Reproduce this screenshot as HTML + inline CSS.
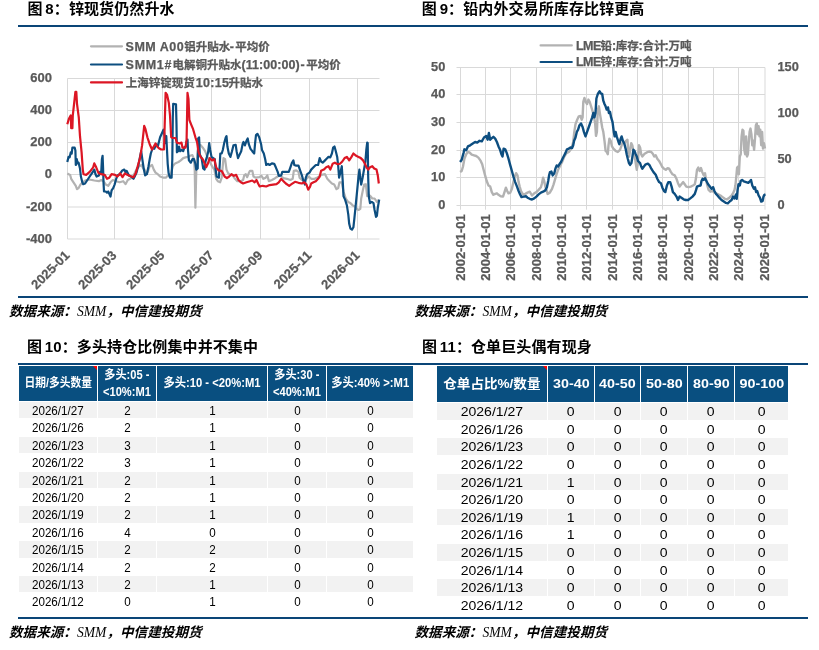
<!DOCTYPE html><html lang="zh"><head><meta charset="utf-8"><title>图表</title><style>
html,body{margin:0;padding:0;background:#fff;}
body{width:819px;height:650px;position:relative;overflow:hidden;font-family:"Liberation Sans","Noto Sans CJK SC",sans-serif;}
.h{position:absolute;font:bold 15px/20px "Liberation Sans","Noto Sans CJK SC",sans-serif;letter-spacing:0.1px;color:#000;white-space:nowrap;word-spacing:-1.5px;}
.rule{position:absolute;left:18px;width:790px;height:2px;background:#0a4577;}
.src{position:absolute;font:italic bold 13.6px/18px "Liberation Serif","Noto Sans CJK SC",sans-serif;color:#000;white-space:nowrap;}
.src span{font-weight:normal;}
svg{position:absolute;left:0;top:0;}
svg text{font-family:"Liberation Sans","Noto Sans CJK SC",sans-serif;font-weight:bold;fill:#595959;stroke:#595959;stroke-width:0.25px;}
.tbl{position:absolute;}
.row{position:absolute;left:0;right:0;}
.c{position:absolute;top:0;bottom:0;text-align:center;color:#000;white-space:nowrap;}
.g .c{background:linear-gradient(#fff 1px,#f2f2f2 1px);}
.hd .c{background:#094f80;color:#fff;font-weight:bold;}
.sx{display:inline-block;white-space:nowrap;}
.tri{position:absolute;width:0;height:0;border-top:4px solid #f00;border-left:4px solid transparent;}
</style></head><body>
<div class="h" style="left:27.5px;top:-1px">图 8：锌现货仍然升水</div>
<div class="h" style="left:421.8px;top:-1px">图 9：铅内外交易所库存比锌更高</div>
<div class="h" style="left:27px;top:337px">图 10：多头持仓比例集中并不集中</div>
<div class="h" style="left:422px;top:337px">图 11：仓单巨头偶有现身</div>
<div class="rule" style="top:25px"></div>
<div class="rule" style="top:296px"></div>
<div class="rule" style="top:363px"></div>
<div class="rule" style="top:617px"></div>
<div class="src" style="left:9px;top:303px">数据来源：<span>SMM</span>，中信建投期货</div>
<div class="src" style="left:414.5px;top:303px">数据来源：<span>SMM</span>，中信建投期货</div>
<div class="src" style="left:9px;top:624px">数据来源：<span>SMM</span>，中信建投期货</div>
<div class="src" style="left:414.5px;top:624px">数据来源：<span>SMM</span>，中信建投期货</div>
<svg width="819" height="330" viewBox="0 0 819 330"><path d="M67.5 78.5H379.5M67.5 110.5H379.5M67.5 142.5H379.5M67.5 174.5H379.5M67.5 207H379.5M67.5 239H379.5M67.5 78.5V239M114.5 78.5V239M162.5 78.5V239M211.5 78.5V239M260.5 78.5V239M309.5 78.5V239M357.5 78.5V239" stroke="#d9d9d9" stroke-width="1" fill="none"/><text x="52" y="82.3" text-anchor="end" font-size="13">600</text><text x="52" y="114.3" text-anchor="end" font-size="13">400</text><text x="52" y="146.3" text-anchor="end" font-size="13">200</text><text x="52" y="178.3" text-anchor="end" font-size="13">0</text><text x="52" y="210.8" text-anchor="end" font-size="13">-200</text><text x="52" y="242.8" text-anchor="end" font-size="13">-400</text><text transform="translate(70.3,256.2) rotate(-45)" text-anchor="end" font-size="13">2025-01</text><text transform="translate(117.3,256.2) rotate(-45)" text-anchor="end" font-size="13">2025-03</text><text transform="translate(165.3,256.2) rotate(-45)" text-anchor="end" font-size="13">2025-05</text><text transform="translate(214.3,256.2) rotate(-45)" text-anchor="end" font-size="13">2025-07</text><text transform="translate(263.3,256.2) rotate(-45)" text-anchor="end" font-size="13">2025-09</text><text transform="translate(312.3,256.2) rotate(-45)" text-anchor="end" font-size="13">2025-11</text><text transform="translate(360.3,256.2) rotate(-45)" text-anchor="end" font-size="13">2026-01</text><polyline points="67.3,173.5 70.1,174.9 71.2,178.8 73.5,182.3 75.8,185.8 77.0,189.2 78.6,188.1 80.5,184.6 82.8,182.3 85.1,180.5 88.5,179.5 92.0,180.0 94.3,180.5 98.9,181.2 101.2,180.0 103.5,181.2 105.8,184.6 108.2,185.8 110.5,182.3 112.8,180.0 116.2,181.2 119.7,182.3 123.2,181.2 125.5,184.2 127.8,180.0 130.1,178.8 132.4,177.2 134.7,173.1 137.0,168.5 139.3,166.2 141.6,165.0 143.2,168.5 144.6,169.6 146.2,173.1 147.8,171.9 149.7,166.2 152.0,165.0 153.8,169.6 155.5,172.6 157.8,174.2 160.1,176.5 163.5,177.7 165.8,177.7 167.7,175.8 170.5,175.4 172.8,166.2 175.1,163.4 178.5,162.0 180.8,160.4 183.2,158.1 185.5,157.4 187.8,156.9 190.1,155.8 192.4,155.1 194.0,159.2 194.7,169.6 195.4,207.7 196.3,170.8 197.0,159.2 197.7,151.2 198.6,145.4 200.5,144.9 202.8,147.7 205.1,151.2 207.4,156.9 209.7,161.5 212.0,166.2 214.3,169.6 216.2,178.8 217.8,181.2 220.1,182.3 221.7,177.7 223.5,158.1 225.1,159.2 226.5,169.6 228.1,173.1 230.4,174.9 232.7,175.4 235.0,178.8 237.3,181.2 240.8,181.2 243.1,180.0 244.2,175.4 245.8,174.2 247.2,177.2 248.8,173.1 250.0,170.8 252.3,170.8 253.5,176.5 255.8,177.7 259.2,177.2 261.5,175.8 263.4,178.8 265.7,177.7 267.3,175.4 268.9,181.2 271.9,180.0 274.2,178.8 276.5,177.2 278.8,175.8 281.2,176.5 283.5,178.2 286.9,178.8 290.4,180.0 292.7,178.8 293.8,170.8 296.2,170.3 298.5,171.9 299.6,177.7 301.9,180.0 304.2,180.5 306.5,178.8 308.8,176.5 311.2,178.8 314.6,178.8 316.9,177.7 319.2,176.5 321.5,174.9 325.0,174.2 327.3,178.8 329.6,181.2 331.9,183.5 334.2,184.6 336.5,189.2 338.2,188.1 339.5,182.3 341.8,182.3 343.5,191.5 345.8,198.5 348.1,201.9 350.4,203.1 352.7,205.4 355.0,206.5 356.6,208.8 358.5,210.0 360.3,208.8 361.2,198.5 362.6,191.5 364.2,184.6 365.8,184.2 367.2,196.2 368.8,195.0 370.5,196.2 372.3,198.5 374.6,198.5 376.9,201.9 378.8,199.6" fill="none" stroke="#b2b2b2" stroke-width="2.2" stroke-linejoin="round" stroke-linecap="butt"/><polyline points="67.3,162.0 68.5,156.9 69.6,157.4 70.8,152.3 71.7,153.5 72.4,147.7 74.7,147.7 75.4,150.5 75.8,165.0 76.8,159.2 77.7,163.4 78.6,162.7 80.0,168.5 80.9,176.5 82.3,182.3 83.2,184.2 85.1,183.5 87.4,180.0 89.7,176.5 92.0,173.1 94.3,169.6 95.5,174.2 96.6,176.5 98.9,175.4 100.1,171.9 101.2,173.1 101.9,159.2 102.6,155.8 103.1,168.5 103.5,182.3 104.0,191.5 105.8,191.5 107.0,192.7 108.2,191.5 109.3,193.8 110.5,196.6 111.6,190.4 113.2,188.1 114.6,184.6 116.2,178.8 117.4,175.4 119.7,174.2 122.0,170.8 124.3,169.6 125.5,171.9 126.6,170.8 128.9,175.4 131.2,176.5 133.5,178.8 134.7,176.5 136.3,173.1 138.2,166.2 140.0,156.9 141.2,151.2 142.3,159.2 143.9,169.6 145.1,175.4 146.9,174.2 148.5,166.2 149.7,159.2 150.8,153.5 152.0,150.0 153.2,147.7 154.3,148.8 156.2,144.2 157.8,146.5 158.9,141.9 160.1,137.3 161.7,133.8 163.5,129.7 164.7,136.2 165.4,143.1 166.3,136.2 167.0,150.0 167.7,163.8 168.6,173.1 170.0,177.7 171.6,177.7 172.3,159.2 172.8,117.7 173.2,103.8 176.0,104.3 176.5,124.6 176.9,152.3 178.1,151.2 179.0,146.5 180.2,151.2 181.5,150.0 183.2,151.2 184.3,147.7 185.7,146.5 186.6,141.9 187.5,139.6 188.0,150.0 188.9,160.4 190.8,162.7 192.4,159.2 194.0,159.2 195.4,163.8 196.3,169.6 197.7,168.5 198.2,138.5 199.1,137.3 199.8,154.6 201.6,158.1 203.2,168.5 204.6,169.6 205.5,161.5 206.9,156.9 208.1,152.3 209.2,143.1 210.2,150.0 211.5,156.9 213.2,158.1 214.8,159.2 215.5,168.5 216.6,176.5 218.9,177.7 219.8,163.8 220.3,153.5 221.7,153.5 222.8,150.0 224.2,143.1 225.8,137.3 226.5,136.2 227.4,146.5 228.8,153.5 230.4,156.9 232.0,151.2 233.4,145.4 235.7,144.9 236.6,151.2 238.0,158.1 239.6,154.6 241.2,151.2 242.6,144.2 243.5,141.9 244.9,145.4 246.5,140.8 247.7,138.5 248.8,144.2 250.5,148.8 252.3,151.2 254.2,153.5 255.1,143.1 256.0,135.0 257.4,133.8 259.2,137.3 261.1,144.2 262.0,150.0 263.8,153.5 265.2,159.2 266.2,165.0 268.0,163.8 269.6,165.0 271.9,163.4 274.2,163.8 275.8,167.3 277.7,171.9 278.8,175.8 281.2,175.4 282.3,171.9 285.8,171.9 288.8,171.9 290.4,167.3 292.0,162.7 293.4,160.4 294.3,165.0 296.2,165.7 298.5,165.7 300.3,170.8 301.9,175.4 303.5,181.2 304.9,184.6 305.8,177.7 307.2,174.2 309.5,172.6 311.2,169.6 313.5,167.3 315.8,165.0 318.1,165.0 319.7,158.1 321.1,161.5 322.7,162.7 325.0,160.4 326.6,158.8 328.5,156.9 330.3,157.4 331.9,153.5 333.1,147.7 334.5,146.5 335.8,151.2 337.2,156.9 338.2,166.2 339.1,177.7 340.5,171.9 341.8,166.2 342.8,182.3 343.5,196.2 345.1,199.6 346.9,205.4 348.3,214.6 349.2,223.8 350.4,228.5 352.0,229.6 353.4,227.3 354.3,219.2 355.7,205.4 357.3,189.2 358.5,176.5 359.4,169.6 360.3,177.7 361.2,184.6 362.6,177.7 364.2,168.5 365.4,161.5 366.3,150.0 367.2,142.6 367.7,143.1 368.2,177.7 368.8,196.2 370.0,203.1 371.8,201.9 373.5,203.1 374.6,210.0 376.0,216.9 376.9,215.8 377.8,207.7 379.2,199.6" fill="none" stroke="#0d4e80" stroke-width="2.2" stroke-linejoin="round" stroke-linecap="butt"/><polyline points="67.3,124.2 68.9,118.8 70.8,115.4 71.2,128.1 72.4,128.1 72.8,115.4 75.4,91.8 76.3,91.8 77.0,103.8 78.8,117.7 80.0,136.2 81.6,152.3 82.8,169.6 83.5,174.2 86.2,174.9 89.7,171.9 93.2,167.3 94.3,163.4 96.2,167.3 98.5,173.1 101.2,174.2 104.7,174.9 107.0,178.8 109.3,177.7 111.6,174.2 115.1,174.9 117.4,176.5 120.2,173.5 122.5,177.2 124.8,173.5 127.8,174.9 131.2,176.5 133.5,177.2 135.8,173.1 137.7,166.2 140.0,158.1 142.1,145.4 144.2,125.8 145.5,129.2 147.4,137.3 149.7,144.2 152.0,149.5 153.8,146.5 155.5,143.5 157.1,146.5 158.9,148.2 161.2,149.5 164.0,149.5 164.9,117.7 165.6,92.8 167.0,94.6 168.8,102.7 170.0,115.4 171.2,137.3 172.8,138.0 175.5,138.0 176.9,142.6 179.7,143.5 181.5,142.6 182.5,147.7 185.5,147.7 186.6,139.6 187.5,92.8 188.5,99.2 189.4,120.0 191.2,124.6 193.1,129.2 195.4,137.3 197.0,141.9 198.6,152.3 200.5,156.9 202.8,159.2 204.6,163.4 206.2,167.3 207.8,163.8 209.7,158.1 212.0,160.4 214.3,159.2 216.2,167.3 218.5,170.3 221.2,170.8 222.3,171.9 224.6,176.5 226.9,178.2 229.2,176.5 231.5,174.2 233.8,175.8 236.2,174.9 238.5,180.0 240.8,182.3 243.1,183.5 246.5,182.3 250.0,181.2 252.3,180.5 254.6,182.3 256.5,180.0 258.1,183.5 259.7,186.5 262.7,185.8 266.2,186.5 269.6,185.1 273.1,184.6 276.5,184.2 278.8,182.3 281.2,178.8 283.5,181.2 285.8,183.5 289.2,185.8 291.5,184.2 295.0,181.8 298.5,182.8 301.9,183.5 304.2,182.3 306.5,184.6 308.2,189.7 310.0,186.9 311.2,183.5 313.5,182.3 315.8,181.2 318.1,178.8 319.7,176.5 321.1,170.8 323.8,169.6 326.2,167.3 328.5,166.2 330.3,169.6 332.6,163.8 334.9,162.7 337.7,164.3 340.0,163.8 342.3,161.5 344.6,158.1 346.9,156.9 349.2,160.4 351.5,156.9 353.4,153.5 356.2,155.8 358.5,156.9 360.8,158.1 363.1,160.4 364.9,163.8 366.5,167.3 368.2,169.6 370.0,167.3 372.3,166.2 374.2,168.5 376.5,169.6 377.8,175.4 378.8,183.5" fill="none" stroke="#dc1624" stroke-width="2.2" stroke-linejoin="round" stroke-linecap="butt"/><path d="M91 46.3H122" stroke="#b2b2b2" stroke-width="2.2" stroke-linecap="round"/><text y="50.6"><tspan x="125.6" font-size="12.5" letter-spacing="0.5">SMM A00</tspan><tspan x="184.2" font-size="11.5">铝升贴水</tspan><tspan x="229.7" font-size="12.5" letter-spacing="0.3">-</tspan><tspan x="235.3" font-size="11.5">平均价</tspan></text><path d="M91 64.5H122" stroke="#0d4e80" stroke-width="2.2" stroke-linecap="round"/><text y="68.8"><tspan x="125.6" font-size="12.5" letter-spacing="0.7">SMM1#</tspan><tspan x="172.4" font-size="11.5">电解铜升贴水</tspan><tspan x="241.6" font-size="12.5" letter-spacing="0.05">(11:00:00)</tspan><tspan x="300.5" font-size="12.5" letter-spacing="0.3">-</tspan><tspan x="306.3" font-size="11.5">平均价</tspan></text><path d="M91 82.4H122" stroke="#dc1624" stroke-width="2.2" stroke-linecap="round"/><text y="86.7"><tspan x="125.8" font-size="11.5">上海锌锭现货</tspan><tspan x="195.8" font-size="12.5" letter-spacing="0.3">10:15</tspan><tspan x="228.6" font-size="11.5">升贴水</tspan></text><path d="M456.5 67.5H765M456.5 94.5H765M456.5 122.5H765M456.5 150.5H765M456.5 177.5H765M456.5 205.5H765M460.5 67.5V209.7M485.5 67.5V209.7M510.5 67.5V209.7M536.5 67.5V209.7M561.5 67.5V209.7M586.5 67.5V209.7M612.5 67.5V209.7M637.5 67.5V209.7M662.5 67.5V209.7M688.5 67.5V209.7M713.5 67.5V209.7M738.5 67.5V209.7M765 67.5V209.7" stroke="#d9d9d9" stroke-width="1" fill="none"/><text x="445.3" y="70.9" text-anchor="end" font-size="12.8">50</text><text x="445.3" y="97.9" text-anchor="end" font-size="12.8">40</text><text x="445.3" y="125.9" text-anchor="end" font-size="12.8">30</text><text x="445.3" y="153.9" text-anchor="end" font-size="12.8">20</text><text x="445.3" y="180.9" text-anchor="end" font-size="12.8">10</text><text x="445.3" y="208.9" text-anchor="end" font-size="12.8">0</text><text x="777.5" y="70.9" font-size="12.8">150</text><text x="777.5" y="116.9" font-size="12.8">100</text><text x="777.5" y="162.9" font-size="12.8">50</text><text x="777.5" y="208.9" font-size="12.8">0</text><text transform="translate(464.8,214.3) rotate(-90)" text-anchor="end" font-size="13">2002-01-01</text><text transform="translate(489.8,214.3) rotate(-90)" text-anchor="end" font-size="13">2004-01-01</text><text transform="translate(514.8,214.3) rotate(-90)" text-anchor="end" font-size="13">2006-01-01</text><text transform="translate(540.8,214.3) rotate(-90)" text-anchor="end" font-size="13">2008-01-01</text><text transform="translate(565.8,214.3) rotate(-90)" text-anchor="end" font-size="13">2010-01-01</text><text transform="translate(590.8,214.3) rotate(-90)" text-anchor="end" font-size="13">2012-01-01</text><text transform="translate(616.8,214.3) rotate(-90)" text-anchor="end" font-size="13">2014-01-01</text><text transform="translate(641.8,214.3) rotate(-90)" text-anchor="end" font-size="13">2016-01-01</text><text transform="translate(666.8,214.3) rotate(-90)" text-anchor="end" font-size="13">2018-01-01</text><text transform="translate(692.8,214.3) rotate(-90)" text-anchor="end" font-size="13">2020-01-01</text><text transform="translate(717.8,214.3) rotate(-90)" text-anchor="end" font-size="13">2022-01-01</text><text transform="translate(742.8,214.3) rotate(-90)" text-anchor="end" font-size="13">2024-01-01</text><text transform="translate(769.3,214.3) rotate(-90)" text-anchor="end" font-size="13">2026-01-01</text><polyline points="460.1,172.1 461.7,171.0 463.0,166.5 464.4,158.7 466.2,154.2 467.9,152.0 469.5,152.4 471.7,154.7 474.0,155.3 476.2,156.0 478.4,157.6 480.7,160.9 482.2,164.3 483.6,169.8 485.1,175.4 486.7,181.0 488.5,185.5 490.2,186.6 491.8,192.1 493.4,194.8 495.2,193.9 496.9,193.3 498.5,194.8 500.7,196.2 503.0,196.6 504.5,192.1 505.9,187.7 507.2,191.0 508.5,193.3 510.3,192.6 511.9,188.8 513.4,182.1 514.8,176.5 516.1,173.2 517.5,175.4 518.6,182.1 519.7,186.6 521.0,191.0 523.0,194.4 525.3,193.9 527.5,192.6 529.7,191.7 532.0,195.5 534.2,193.3 536.4,192.1 538.6,189.9 540.9,187.2 542.0,183.2 543.1,177.6 544.2,181.0 545.3,186.6 546.5,189.9 547.6,193.9 549.8,192.6 552.0,188.8 553.6,184.3 554.9,179.9 556.5,174.3 558.1,169.8 559.8,166.5 562.1,162.0 564.3,156.5 566.5,153.1 568.8,152.0 570.5,149.8 572.1,146.4 573.2,142.0 574.3,131.9 575.5,124.1 577.2,119.7 578.8,116.3 580.4,115.9 581.7,119.7 582.6,117.4 583.3,101.8 584.4,98.0 585.7,101.8 587.1,104.0 588.4,99.6 589.7,101.8 591.1,106.3 592.4,110.7 593.7,115.2 595.1,123.0 596.0,135.9 596.9,131.9 597.8,109.6 598.9,106.3 600.0,114.1 601.1,120.8 602.2,127.5 603.3,131.9 604.5,140.8 605.6,150.9 606.7,152.0 607.8,154.2 608.5,145.3 609.4,138.6 610.7,140.8 612.0,146.4 613.4,148.6 614.7,149.8 615.6,150.9 617.8,152.0 620.0,149.8 621.6,145.3 622.9,142.0 624.5,143.1 626.1,140.8 627.4,139.7 628.3,152.0 629.2,156.5 630.1,149.8 631.2,143.1 632.3,145.3 633.4,150.9 634.5,154.2 635.7,163.1 636.8,169.8 637.9,163.1 639.0,145.3 640.1,147.5 641.2,154.2 642.3,156.5 644.6,153.8 646.8,152.4 649.0,151.5 651.3,152.0 652.8,153.8 654.2,156.5 655.7,155.3 657.3,158.7 659.1,160.9 660.9,164.3 662.4,167.2 664.0,168.7 665.8,169.8 667.6,168.1 669.1,168.7 670.7,171.6 672.5,174.3 674.7,175.4 676.5,178.8 678.0,183.2 679.6,186.6 681.4,184.3 683.2,182.1 684.7,184.3 686.3,186.6 688.5,187.2 690.7,186.6 693.0,185.5 694.8,184.3 695.9,178.8 697.0,169.8 698.3,167.6 699.7,171.0 701.0,168.1 702.3,172.1 703.7,175.4 705.0,173.2 705.9,178.8 707.3,185.5 708.6,189.9 710.4,191.7 712.2,191.0 713.9,192.1 716.0,193.3 718.2,194.4 720.4,195.5 722.6,197.1 724.9,198.8 727.1,199.3 729.3,197.7 731.6,195.5 733.1,193.3 734.5,189.9 735.4,185.5 736.3,176.5 737.1,167.6 738.3,166.5 738.9,174.3 739.8,156.5 740.7,154.2 741.6,136.4 742.5,129.7 743.4,130.8 744.3,149.8 745.2,154.2 746.1,136.4 747.0,156.5 747.9,154.2 748.7,143.1 749.6,131.9 750.5,128.6 751.4,134.2 752.3,145.3 753.2,140.8 754.1,149.8 755.0,138.6 755.9,125.2 756.8,123.4 757.7,134.2 758.6,126.3 759.5,136.4 760.3,129.7 761.2,145.3 762.1,131.9 763.0,148.6 763.9,143.1 765.0,148.6" fill="none" stroke="#b2b2b2" stroke-width="2.4" stroke-linejoin="round" stroke-linecap="butt"/><polyline points="460.1,162.0 461.7,159.8 463.5,153.1 464.4,149.3 466.2,150.2 467.9,146.4 470.2,145.3 472.8,143.5 475.1,142.0 477.3,142.6 479.5,140.8 481.8,141.3 484.0,137.5 486.2,135.9 487.6,139.7 488.9,133.0 490.2,139.7 491.8,138.2 493.4,136.8 495.2,138.6 496.9,142.0 498.5,146.4 500.1,149.8 501.4,154.2 502.5,156.5 503.6,148.6 505.2,149.3 506.8,153.1 508.5,158.7 510.3,165.4 511.9,171.0 513.4,176.5 515.2,182.1 517.0,186.6 518.6,191.0 520.1,194.4 521.5,197.1 523.7,196.6 525.9,196.2 527.5,197.7 529.7,198.8 532.0,199.5 534.2,198.4 536.4,196.6 538.6,194.4 540.9,192.6 543.1,191.7 545.3,190.4 546.9,187.2 548.2,181.0 549.1,175.4 550.0,172.1 551.4,171.6 552.7,175.4 554.3,173.2 555.4,168.7 556.7,165.4 558.1,166.5 559.4,164.3 561.0,162.0 562.5,158.7 563.9,156.0 565.4,153.1 567.0,149.3 568.8,148.6 570.5,147.5 572.1,148.0 573.2,145.3 574.1,140.8 575.5,137.5 576.8,131.9 578.1,129.7 579.5,125.2 581.0,123.4 582.6,127.0 583.9,131.9 585.5,136.4 587.1,131.9 588.8,127.0 590.6,121.9 592.2,117.4 593.3,113.0 594.4,117.4 595.5,113.0 596.4,98.5 597.8,94.0 599.5,91.3 601.1,93.6 602.2,94.0 603.3,100.7 604.5,104.0 605.6,106.3 606.7,109.6 608.0,107.4 608.9,113.0 610.0,111.8 611.1,117.4 612.5,121.9 613.8,131.9 614.7,136.4 615.6,131.9 616.7,136.4 618.5,142.0 619.4,144.2 620.7,138.6 621.6,136.4 622.9,140.8 624.5,144.2 625.6,148.6 626.7,154.2 627.8,158.7 629.0,163.1 630.1,164.9 631.4,163.1 632.3,157.6 633.4,149.8 634.5,150.9 635.7,154.2 636.8,156.5 637.9,160.9 639.0,162.0 640.1,163.1 641.2,166.5 642.3,168.7 643.9,166.5 645.7,164.3 647.9,163.6 649.7,165.4 651.3,168.7 653.5,172.1 655.7,174.7 657.3,178.8 659.1,182.1 660.9,183.2 662.4,187.7 664.0,191.0 665.3,192.1 666.9,185.5 668.4,182.1 670.2,182.1 671.6,186.6 672.9,192.1 674.7,193.9 676.5,196.6 678.0,200.0 679.6,196.6 681.4,197.7 683.6,199.3 685.8,200.0 688.1,200.0 690.3,198.4 692.5,196.6 694.8,193.9 696.1,189.9 697.0,186.6 698.8,185.9 700.6,185.5 701.5,181.0 702.6,178.8 703.7,179.9 705.0,178.3 706.4,181.0 708.1,184.3 709.9,186.6 711.5,188.8 713.1,187.2 714.4,191.0 716.0,193.9 717.5,195.5 719.3,197.7 721.5,200.0 723.8,201.5 726.0,202.9 727.8,203.3 729.6,201.5 731.6,200.0 733.1,196.6 734.5,198.4 736.0,194.4 736.7,198.8 737.6,189.9 738.5,184.3 739.8,185.5 740.7,181.0 742.1,179.9 743.8,181.4 746.1,182.1 748.3,182.8 750.1,181.0 751.0,179.9 752.3,185.5 753.9,188.8 755.0,187.2 756.1,192.1 757.2,191.0 758.6,195.5 759.9,197.7 761.2,201.5 762.6,201.1 763.5,196.6 764.4,194.8 765.5,194.4" fill="none" stroke="#0d4e80" stroke-width="2.4" stroke-linejoin="round" stroke-linecap="butt"/><path d="M540.6 45.4H571.8" stroke="#b2b2b2" stroke-width="2.2" stroke-linecap="round"/><text y="49.7"><tspan x="575.9" font-size="12.5" letter-spacing="-0.5">LME</tspan><tspan x="600.6" font-size="11.5">铅</tspan><tspan x="612.1" font-size="12.5" letter-spacing="0.3">:</tspan><tspan x="615.8" font-size="11.5">库存</tspan><tspan x="638.6" font-size="12.5" letter-spacing="0.3">:</tspan><tspan x="642.6" font-size="11.5">合计</tspan><tspan x="664.6" font-size="12.5" letter-spacing="0.3">:</tspan><tspan x="668.6" font-size="11.5">万吨</tspan></text><path d="M540.6 62H571.8" stroke="#0d4e80" stroke-width="2.2" stroke-linecap="round"/><text y="66.3"><tspan x="575.9" font-size="12.5" letter-spacing="-0.5">LME</tspan><tspan x="600.6" font-size="11.5">锌</tspan><tspan x="612.1" font-size="12.5" letter-spacing="0.3">:</tspan><tspan x="615.8" font-size="11.5">库存</tspan><tspan x="638.6" font-size="12.5" letter-spacing="0.3">:</tspan><tspan x="642.6" font-size="11.5">合计</tspan><tspan x="664.6" font-size="12.5" letter-spacing="0.3">:</tspan><tspan x="668.6" font-size="11.5">万吨</tspan></text></svg>
<div class="tbl" style="left:19px;top:366px;width:394px;height:243.8px"><div class="row hd" style="top:0;height:35px"><div class="c" style="left:0px;width:78px;font-size:12.5px;line-height:35px;padding-top:0px"><span class="sx" style="transform:scaleX(0.86)">日期/多头数量</span></div><div class="c" style="left:79px;width:58px;font-size:12.5px;line-height:17px;padding-top:0.5px"><span class="sx" style="transform:scaleX(0.89)">多头:05 -<br>&lt;10%:M1</span></div><div class="c" style="left:138px;width:110px;font-size:12.5px;line-height:35px;padding-top:0px"><span class="sx" style="transform:scaleX(0.9)">多头:10 - &lt;20%:M1</span></div><div class="c" style="left:249px;width:58px;font-size:12.5px;line-height:17px;padding-top:0.5px"><span class="sx" style="transform:scaleX(0.89)">多头:30 -<br>&lt;40%:M1</span></div><div class="c" style="left:308px;width:86px;font-size:12.5px;line-height:35px;padding-top:0px"><span class="sx" style="transform:scaleX(0.9)">多头:40% &gt;:M1</span></div><div class="tri" style="left:74px;top:0"></div></div><div class="row g" style="top:35.00px;height:17.4px"><div class="c" style="left:0px;width:78px;font-size:12.5px;line-height:20.799999999999997px"><span class="sx" style="transform:scaleX(0.93)">2026/1/27</span></div><div class="c" style="left:79px;width:58px;font-size:12.5px;line-height:20.799999999999997px"><span class="sx" style="transform:scaleX(0.93)">2</span></div><div class="c" style="left:138px;width:110px;font-size:12.5px;line-height:20.799999999999997px"><span class="sx" style="transform:scaleX(0.93)">1</span></div><div class="c" style="left:249px;width:58px;font-size:12.5px;line-height:20.799999999999997px"><span class="sx" style="transform:scaleX(0.93)">0</span></div><div class="c" style="left:308px;width:86px;font-size:12.5px;line-height:20.799999999999997px"><span class="sx" style="transform:scaleX(0.93)">0</span></div></div><div class="row" style="top:52.40px;height:17.4px"><div class="c" style="left:0px;width:78px;font-size:12.5px;line-height:20.799999999999997px"><span class="sx" style="transform:scaleX(0.93)">2026/1/26</span></div><div class="c" style="left:79px;width:58px;font-size:12.5px;line-height:20.799999999999997px"><span class="sx" style="transform:scaleX(0.93)">2</span></div><div class="c" style="left:138px;width:110px;font-size:12.5px;line-height:20.799999999999997px"><span class="sx" style="transform:scaleX(0.93)">1</span></div><div class="c" style="left:249px;width:58px;font-size:12.5px;line-height:20.799999999999997px"><span class="sx" style="transform:scaleX(0.93)">0</span></div><div class="c" style="left:308px;width:86px;font-size:12.5px;line-height:20.799999999999997px"><span class="sx" style="transform:scaleX(0.93)">0</span></div></div><div class="row g" style="top:69.80px;height:17.4px"><div class="c" style="left:0px;width:78px;font-size:12.5px;line-height:20.799999999999997px"><span class="sx" style="transform:scaleX(0.93)">2026/1/23</span></div><div class="c" style="left:79px;width:58px;font-size:12.5px;line-height:20.799999999999997px"><span class="sx" style="transform:scaleX(0.93)">3</span></div><div class="c" style="left:138px;width:110px;font-size:12.5px;line-height:20.799999999999997px"><span class="sx" style="transform:scaleX(0.93)">1</span></div><div class="c" style="left:249px;width:58px;font-size:12.5px;line-height:20.799999999999997px"><span class="sx" style="transform:scaleX(0.93)">0</span></div><div class="c" style="left:308px;width:86px;font-size:12.5px;line-height:20.799999999999997px"><span class="sx" style="transform:scaleX(0.93)">0</span></div></div><div class="row" style="top:87.20px;height:17.4px"><div class="c" style="left:0px;width:78px;font-size:12.5px;line-height:20.799999999999997px"><span class="sx" style="transform:scaleX(0.93)">2026/1/22</span></div><div class="c" style="left:79px;width:58px;font-size:12.5px;line-height:20.799999999999997px"><span class="sx" style="transform:scaleX(0.93)">3</span></div><div class="c" style="left:138px;width:110px;font-size:12.5px;line-height:20.799999999999997px"><span class="sx" style="transform:scaleX(0.93)">1</span></div><div class="c" style="left:249px;width:58px;font-size:12.5px;line-height:20.799999999999997px"><span class="sx" style="transform:scaleX(0.93)">0</span></div><div class="c" style="left:308px;width:86px;font-size:12.5px;line-height:20.799999999999997px"><span class="sx" style="transform:scaleX(0.93)">0</span></div></div><div class="row g" style="top:104.60px;height:17.4px"><div class="c" style="left:0px;width:78px;font-size:12.5px;line-height:20.799999999999997px"><span class="sx" style="transform:scaleX(0.93)">2026/1/21</span></div><div class="c" style="left:79px;width:58px;font-size:12.5px;line-height:20.799999999999997px"><span class="sx" style="transform:scaleX(0.93)">2</span></div><div class="c" style="left:138px;width:110px;font-size:12.5px;line-height:20.799999999999997px"><span class="sx" style="transform:scaleX(0.93)">1</span></div><div class="c" style="left:249px;width:58px;font-size:12.5px;line-height:20.799999999999997px"><span class="sx" style="transform:scaleX(0.93)">0</span></div><div class="c" style="left:308px;width:86px;font-size:12.5px;line-height:20.799999999999997px"><span class="sx" style="transform:scaleX(0.93)">0</span></div></div><div class="row" style="top:122.00px;height:17.4px"><div class="c" style="left:0px;width:78px;font-size:12.5px;line-height:20.799999999999997px"><span class="sx" style="transform:scaleX(0.93)">2026/1/20</span></div><div class="c" style="left:79px;width:58px;font-size:12.5px;line-height:20.799999999999997px"><span class="sx" style="transform:scaleX(0.93)">2</span></div><div class="c" style="left:138px;width:110px;font-size:12.5px;line-height:20.799999999999997px"><span class="sx" style="transform:scaleX(0.93)">1</span></div><div class="c" style="left:249px;width:58px;font-size:12.5px;line-height:20.799999999999997px"><span class="sx" style="transform:scaleX(0.93)">0</span></div><div class="c" style="left:308px;width:86px;font-size:12.5px;line-height:20.799999999999997px"><span class="sx" style="transform:scaleX(0.93)">0</span></div></div><div class="row g" style="top:139.40px;height:17.4px"><div class="c" style="left:0px;width:78px;font-size:12.5px;line-height:20.799999999999997px"><span class="sx" style="transform:scaleX(0.93)">2026/1/19</span></div><div class="c" style="left:79px;width:58px;font-size:12.5px;line-height:20.799999999999997px"><span class="sx" style="transform:scaleX(0.93)">2</span></div><div class="c" style="left:138px;width:110px;font-size:12.5px;line-height:20.799999999999997px"><span class="sx" style="transform:scaleX(0.93)">1</span></div><div class="c" style="left:249px;width:58px;font-size:12.5px;line-height:20.799999999999997px"><span class="sx" style="transform:scaleX(0.93)">0</span></div><div class="c" style="left:308px;width:86px;font-size:12.5px;line-height:20.799999999999997px"><span class="sx" style="transform:scaleX(0.93)">0</span></div></div><div class="row" style="top:156.80px;height:17.4px"><div class="c" style="left:0px;width:78px;font-size:12.5px;line-height:20.799999999999997px"><span class="sx" style="transform:scaleX(0.93)">2026/1/16</span></div><div class="c" style="left:79px;width:58px;font-size:12.5px;line-height:20.799999999999997px"><span class="sx" style="transform:scaleX(0.93)">4</span></div><div class="c" style="left:138px;width:110px;font-size:12.5px;line-height:20.799999999999997px"><span class="sx" style="transform:scaleX(0.93)">0</span></div><div class="c" style="left:249px;width:58px;font-size:12.5px;line-height:20.799999999999997px"><span class="sx" style="transform:scaleX(0.93)">0</span></div><div class="c" style="left:308px;width:86px;font-size:12.5px;line-height:20.799999999999997px"><span class="sx" style="transform:scaleX(0.93)">0</span></div></div><div class="row g" style="top:174.20px;height:17.4px"><div class="c" style="left:0px;width:78px;font-size:12.5px;line-height:20.799999999999997px"><span class="sx" style="transform:scaleX(0.93)">2026/1/15</span></div><div class="c" style="left:79px;width:58px;font-size:12.5px;line-height:20.799999999999997px"><span class="sx" style="transform:scaleX(0.93)">2</span></div><div class="c" style="left:138px;width:110px;font-size:12.5px;line-height:20.799999999999997px"><span class="sx" style="transform:scaleX(0.93)">2</span></div><div class="c" style="left:249px;width:58px;font-size:12.5px;line-height:20.799999999999997px"><span class="sx" style="transform:scaleX(0.93)">0</span></div><div class="c" style="left:308px;width:86px;font-size:12.5px;line-height:20.799999999999997px"><span class="sx" style="transform:scaleX(0.93)">0</span></div></div><div class="row" style="top:191.60px;height:17.4px"><div class="c" style="left:0px;width:78px;font-size:12.5px;line-height:20.799999999999997px"><span class="sx" style="transform:scaleX(0.93)">2026/1/14</span></div><div class="c" style="left:79px;width:58px;font-size:12.5px;line-height:20.799999999999997px"><span class="sx" style="transform:scaleX(0.93)">2</span></div><div class="c" style="left:138px;width:110px;font-size:12.5px;line-height:20.799999999999997px"><span class="sx" style="transform:scaleX(0.93)">2</span></div><div class="c" style="left:249px;width:58px;font-size:12.5px;line-height:20.799999999999997px"><span class="sx" style="transform:scaleX(0.93)">0</span></div><div class="c" style="left:308px;width:86px;font-size:12.5px;line-height:20.799999999999997px"><span class="sx" style="transform:scaleX(0.93)">0</span></div></div><div class="row g" style="top:209.00px;height:17.4px"><div class="c" style="left:0px;width:78px;font-size:12.5px;line-height:20.799999999999997px"><span class="sx" style="transform:scaleX(0.93)">2026/1/13</span></div><div class="c" style="left:79px;width:58px;font-size:12.5px;line-height:20.799999999999997px"><span class="sx" style="transform:scaleX(0.93)">2</span></div><div class="c" style="left:138px;width:110px;font-size:12.5px;line-height:20.799999999999997px"><span class="sx" style="transform:scaleX(0.93)">1</span></div><div class="c" style="left:249px;width:58px;font-size:12.5px;line-height:20.799999999999997px"><span class="sx" style="transform:scaleX(0.93)">0</span></div><div class="c" style="left:308px;width:86px;font-size:12.5px;line-height:20.799999999999997px"><span class="sx" style="transform:scaleX(0.93)">0</span></div></div><div class="row" style="top:226.40px;height:17.4px"><div class="c" style="left:0px;width:78px;font-size:12.5px;line-height:20.799999999999997px"><span class="sx" style="transform:scaleX(0.93)">2026/1/12</span></div><div class="c" style="left:79px;width:58px;font-size:12.5px;line-height:20.799999999999997px"><span class="sx" style="transform:scaleX(0.93)">0</span></div><div class="c" style="left:138px;width:110px;font-size:12.5px;line-height:20.799999999999997px"><span class="sx" style="transform:scaleX(0.93)">1</span></div><div class="c" style="left:249px;width:58px;font-size:12.5px;line-height:20.799999999999997px"><span class="sx" style="transform:scaleX(0.93)">0</span></div><div class="c" style="left:308px;width:86px;font-size:12.5px;line-height:20.799999999999997px"><span class="sx" style="transform:scaleX(0.93)">0</span></div></div></div>
<div class="tbl" style="left:437px;top:366px;width:351px;height:247.6px"><div class="row hd" style="top:0;height:36px"><div class="c" style="left:0px;width:110px;font-size:12.8px;line-height:36px;padding-top:0px"><span class="sx" style="transform:scaleX(1.06)">仓单占比%/数量</span></div><div class="c" style="left:111px;width:46px;font-size:12.8px;line-height:36px;padding-top:0px"><span class="sx" style="transform:scaleX(1.12)">30-40</span></div><div class="c" style="left:158px;width:45px;font-size:12.8px;line-height:36px;padding-top:0px"><span class="sx" style="transform:scaleX(1.12)">40-50</span></div><div class="c" style="left:204px;width:46px;font-size:12.8px;line-height:36px;padding-top:0px"><span class="sx" style="transform:scaleX(1.12)">50-80</span></div><div class="c" style="left:251px;width:46px;font-size:12.8px;line-height:36px;padding-top:0px"><span class="sx" style="transform:scaleX(1.12)">80-90</span></div><div class="c" style="left:298px;width:53px;font-size:12.8px;line-height:36px;padding-top:0px"><span class="sx" style="transform:scaleX(1.12)">90-100</span></div><div class="tri" style="left:106px;top:0"></div></div><div class="row g" style="top:36.00px;height:17.63px"><div class="c" style="left:0px;width:110px;font-size:13px;line-height:20.13px"><span class="sx" style="transform:scaleX(1.08)">2026/1/27</span></div><div class="c" style="left:111px;width:46px;font-size:13px;line-height:20.13px"><span class="sx" style="transform:scaleX(1.08)">0</span></div><div class="c" style="left:158px;width:45px;font-size:13px;line-height:20.13px"><span class="sx" style="transform:scaleX(1.08)">0</span></div><div class="c" style="left:204px;width:46px;font-size:13px;line-height:20.13px"><span class="sx" style="transform:scaleX(1.08)">0</span></div><div class="c" style="left:251px;width:46px;font-size:13px;line-height:20.13px"><span class="sx" style="transform:scaleX(1.08)">0</span></div><div class="c" style="left:298px;width:53px;font-size:13px;line-height:20.13px"><span class="sx" style="transform:scaleX(1.08)">0</span></div></div><div class="row" style="top:53.63px;height:17.63px"><div class="c" style="left:0px;width:110px;font-size:13px;line-height:20.13px"><span class="sx" style="transform:scaleX(1.08)">2026/1/26</span></div><div class="c" style="left:111px;width:46px;font-size:13px;line-height:20.13px"><span class="sx" style="transform:scaleX(1.08)">0</span></div><div class="c" style="left:158px;width:45px;font-size:13px;line-height:20.13px"><span class="sx" style="transform:scaleX(1.08)">0</span></div><div class="c" style="left:204px;width:46px;font-size:13px;line-height:20.13px"><span class="sx" style="transform:scaleX(1.08)">0</span></div><div class="c" style="left:251px;width:46px;font-size:13px;line-height:20.13px"><span class="sx" style="transform:scaleX(1.08)">0</span></div><div class="c" style="left:298px;width:53px;font-size:13px;line-height:20.13px"><span class="sx" style="transform:scaleX(1.08)">0</span></div></div><div class="row g" style="top:71.26px;height:17.63px"><div class="c" style="left:0px;width:110px;font-size:13px;line-height:20.13px"><span class="sx" style="transform:scaleX(1.08)">2026/1/23</span></div><div class="c" style="left:111px;width:46px;font-size:13px;line-height:20.13px"><span class="sx" style="transform:scaleX(1.08)">0</span></div><div class="c" style="left:158px;width:45px;font-size:13px;line-height:20.13px"><span class="sx" style="transform:scaleX(1.08)">0</span></div><div class="c" style="left:204px;width:46px;font-size:13px;line-height:20.13px"><span class="sx" style="transform:scaleX(1.08)">0</span></div><div class="c" style="left:251px;width:46px;font-size:13px;line-height:20.13px"><span class="sx" style="transform:scaleX(1.08)">0</span></div><div class="c" style="left:298px;width:53px;font-size:13px;line-height:20.13px"><span class="sx" style="transform:scaleX(1.08)">0</span></div></div><div class="row" style="top:88.89px;height:17.63px"><div class="c" style="left:0px;width:110px;font-size:13px;line-height:20.13px"><span class="sx" style="transform:scaleX(1.08)">2026/1/22</span></div><div class="c" style="left:111px;width:46px;font-size:13px;line-height:20.13px"><span class="sx" style="transform:scaleX(1.08)">0</span></div><div class="c" style="left:158px;width:45px;font-size:13px;line-height:20.13px"><span class="sx" style="transform:scaleX(1.08)">0</span></div><div class="c" style="left:204px;width:46px;font-size:13px;line-height:20.13px"><span class="sx" style="transform:scaleX(1.08)">0</span></div><div class="c" style="left:251px;width:46px;font-size:13px;line-height:20.13px"><span class="sx" style="transform:scaleX(1.08)">0</span></div><div class="c" style="left:298px;width:53px;font-size:13px;line-height:20.13px"><span class="sx" style="transform:scaleX(1.08)">0</span></div></div><div class="row g" style="top:106.52px;height:17.63px"><div class="c" style="left:0px;width:110px;font-size:13px;line-height:20.13px"><span class="sx" style="transform:scaleX(1.08)">2026/1/21</span></div><div class="c" style="left:111px;width:46px;font-size:13px;line-height:20.13px"><span class="sx" style="transform:scaleX(1.08)">1</span></div><div class="c" style="left:158px;width:45px;font-size:13px;line-height:20.13px"><span class="sx" style="transform:scaleX(1.08)">0</span></div><div class="c" style="left:204px;width:46px;font-size:13px;line-height:20.13px"><span class="sx" style="transform:scaleX(1.08)">0</span></div><div class="c" style="left:251px;width:46px;font-size:13px;line-height:20.13px"><span class="sx" style="transform:scaleX(1.08)">0</span></div><div class="c" style="left:298px;width:53px;font-size:13px;line-height:20.13px"><span class="sx" style="transform:scaleX(1.08)">0</span></div></div><div class="row" style="top:124.15px;height:17.63px"><div class="c" style="left:0px;width:110px;font-size:13px;line-height:20.13px"><span class="sx" style="transform:scaleX(1.08)">2026/1/20</span></div><div class="c" style="left:111px;width:46px;font-size:13px;line-height:20.13px"><span class="sx" style="transform:scaleX(1.08)">0</span></div><div class="c" style="left:158px;width:45px;font-size:13px;line-height:20.13px"><span class="sx" style="transform:scaleX(1.08)">0</span></div><div class="c" style="left:204px;width:46px;font-size:13px;line-height:20.13px"><span class="sx" style="transform:scaleX(1.08)">0</span></div><div class="c" style="left:251px;width:46px;font-size:13px;line-height:20.13px"><span class="sx" style="transform:scaleX(1.08)">0</span></div><div class="c" style="left:298px;width:53px;font-size:13px;line-height:20.13px"><span class="sx" style="transform:scaleX(1.08)">0</span></div></div><div class="row g" style="top:141.78px;height:17.63px"><div class="c" style="left:0px;width:110px;font-size:13px;line-height:20.13px"><span class="sx" style="transform:scaleX(1.08)">2026/1/19</span></div><div class="c" style="left:111px;width:46px;font-size:13px;line-height:20.13px"><span class="sx" style="transform:scaleX(1.08)">1</span></div><div class="c" style="left:158px;width:45px;font-size:13px;line-height:20.13px"><span class="sx" style="transform:scaleX(1.08)">0</span></div><div class="c" style="left:204px;width:46px;font-size:13px;line-height:20.13px"><span class="sx" style="transform:scaleX(1.08)">0</span></div><div class="c" style="left:251px;width:46px;font-size:13px;line-height:20.13px"><span class="sx" style="transform:scaleX(1.08)">0</span></div><div class="c" style="left:298px;width:53px;font-size:13px;line-height:20.13px"><span class="sx" style="transform:scaleX(1.08)">0</span></div></div><div class="row" style="top:159.41px;height:17.63px"><div class="c" style="left:0px;width:110px;font-size:13px;line-height:20.13px"><span class="sx" style="transform:scaleX(1.08)">2026/1/16</span></div><div class="c" style="left:111px;width:46px;font-size:13px;line-height:20.13px"><span class="sx" style="transform:scaleX(1.08)">1</span></div><div class="c" style="left:158px;width:45px;font-size:13px;line-height:20.13px"><span class="sx" style="transform:scaleX(1.08)">0</span></div><div class="c" style="left:204px;width:46px;font-size:13px;line-height:20.13px"><span class="sx" style="transform:scaleX(1.08)">0</span></div><div class="c" style="left:251px;width:46px;font-size:13px;line-height:20.13px"><span class="sx" style="transform:scaleX(1.08)">0</span></div><div class="c" style="left:298px;width:53px;font-size:13px;line-height:20.13px"><span class="sx" style="transform:scaleX(1.08)">0</span></div></div><div class="row g" style="top:177.04px;height:17.63px"><div class="c" style="left:0px;width:110px;font-size:13px;line-height:20.13px"><span class="sx" style="transform:scaleX(1.08)">2026/1/15</span></div><div class="c" style="left:111px;width:46px;font-size:13px;line-height:20.13px"><span class="sx" style="transform:scaleX(1.08)">0</span></div><div class="c" style="left:158px;width:45px;font-size:13px;line-height:20.13px"><span class="sx" style="transform:scaleX(1.08)">0</span></div><div class="c" style="left:204px;width:46px;font-size:13px;line-height:20.13px"><span class="sx" style="transform:scaleX(1.08)">0</span></div><div class="c" style="left:251px;width:46px;font-size:13px;line-height:20.13px"><span class="sx" style="transform:scaleX(1.08)">0</span></div><div class="c" style="left:298px;width:53px;font-size:13px;line-height:20.13px"><span class="sx" style="transform:scaleX(1.08)">0</span></div></div><div class="row" style="top:194.67px;height:17.63px"><div class="c" style="left:0px;width:110px;font-size:13px;line-height:20.13px"><span class="sx" style="transform:scaleX(1.08)">2026/1/14</span></div><div class="c" style="left:111px;width:46px;font-size:13px;line-height:20.13px"><span class="sx" style="transform:scaleX(1.08)">0</span></div><div class="c" style="left:158px;width:45px;font-size:13px;line-height:20.13px"><span class="sx" style="transform:scaleX(1.08)">0</span></div><div class="c" style="left:204px;width:46px;font-size:13px;line-height:20.13px"><span class="sx" style="transform:scaleX(1.08)">0</span></div><div class="c" style="left:251px;width:46px;font-size:13px;line-height:20.13px"><span class="sx" style="transform:scaleX(1.08)">0</span></div><div class="c" style="left:298px;width:53px;font-size:13px;line-height:20.13px"><span class="sx" style="transform:scaleX(1.08)">0</span></div></div><div class="row g" style="top:212.30px;height:17.63px"><div class="c" style="left:0px;width:110px;font-size:13px;line-height:20.13px"><span class="sx" style="transform:scaleX(1.08)">2026/1/13</span></div><div class="c" style="left:111px;width:46px;font-size:13px;line-height:20.13px"><span class="sx" style="transform:scaleX(1.08)">0</span></div><div class="c" style="left:158px;width:45px;font-size:13px;line-height:20.13px"><span class="sx" style="transform:scaleX(1.08)">0</span></div><div class="c" style="left:204px;width:46px;font-size:13px;line-height:20.13px"><span class="sx" style="transform:scaleX(1.08)">0</span></div><div class="c" style="left:251px;width:46px;font-size:13px;line-height:20.13px"><span class="sx" style="transform:scaleX(1.08)">0</span></div><div class="c" style="left:298px;width:53px;font-size:13px;line-height:20.13px"><span class="sx" style="transform:scaleX(1.08)">0</span></div></div><div class="row" style="top:229.93px;height:17.63px"><div class="c" style="left:0px;width:110px;font-size:13px;line-height:20.13px"><span class="sx" style="transform:scaleX(1.08)">2026/1/12</span></div><div class="c" style="left:111px;width:46px;font-size:13px;line-height:20.13px"><span class="sx" style="transform:scaleX(1.08)">0</span></div><div class="c" style="left:158px;width:45px;font-size:13px;line-height:20.13px"><span class="sx" style="transform:scaleX(1.08)">0</span></div><div class="c" style="left:204px;width:46px;font-size:13px;line-height:20.13px"><span class="sx" style="transform:scaleX(1.08)">0</span></div><div class="c" style="left:251px;width:46px;font-size:13px;line-height:20.13px"><span class="sx" style="transform:scaleX(1.08)">0</span></div><div class="c" style="left:298px;width:53px;font-size:13px;line-height:20.13px"><span class="sx" style="transform:scaleX(1.08)">0</span></div></div></div>
</body></html>
